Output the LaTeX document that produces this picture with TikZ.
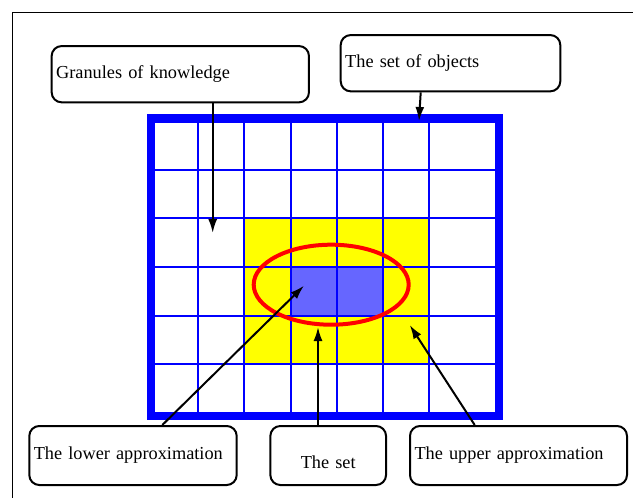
\documentclass[tikz,border=0pt]{standalone}
\usepackage{fontspec}
\setmainfont{Liberation Serif}
\usetikzlibrary{arrows.meta}
\definecolor{upperyellow}{RGB}{255,255,0}
\definecolor{lowerblue}{RGB}{102,102,255}

\begin{document}
\begin{tikzpicture}[x=1bp, y=-1bp, >={Latex[length=14bp,width=9bp]},
  box/.style={draw, line width=2bp, rounded corners=10bp, inner xsep=4.5bp,
    inner ysep=0pt, align=left, font=\fontsize{18.3bp}{22bp}\selectfont},
  grid/.style={blue, line width=2bp},
  arr/.style={->, line width=2bp}]
  \clip (0,0) rectangle (633,498);
  % page frame (only top and left edges are in view)
  \draw[line width=1bp] (12.3,12.7) rectangle (700,560);
  % upper and lower approximation
  \fill[upperyellow] (244.4,218.5) rectangle (428.7,364);
  \fill[lowerblue] (290.5,267) rectangle (382.6,315.5);
  % granules
  \foreach \x in {198.3,244.4,290.5,336.5,382.6,428.7}
    \draw[grid] (\x,118.5) -- (\x,415.8);
  \foreach \y in {170,218.5,267,315.5,364}
    \draw[grid] (151.2,\y) -- (498.8,\y);
  % universe border
  \draw[blue, line width=8.5bp] (151.2,118.5) rectangle (498.8,415.8);
  % the set
  \draw[red, line width=4bp] (331.2,284.7) ellipse [x radius=77.5, y radius=40];

  % labels
  \node[box, text width=248.3bp, minimum height=56.3bp] (gran) at (180.3,74.2) {Granules of knowledge};
  \node[box, text width=210.6bp, minimum height=56.3bp] (objects) at (450.5,63.2) {The set of objects};
  \node[box, text width=198.4bp, minimum height=59bp] (lower) at (133,455.5) {The lower approximation};
  \node[box, text width=106.7bp, minimum height=59bp, align=center, text height=27bp] (theset) at (328.2,455.5) {The set};
  \node[box, text width=208bp, minimum height=59bp] (upper) at (518.5,455.5) {The upper approximation};

  \coordinate (gtip) at (212.7,233);
  \coordinate (otip) at (419,121);
  \coordinate (ltip) at (304,285.7);
  \coordinate (stip) at (318,327);
  \coordinate (utip) at (409.7,325);
  \draw[arr] (gran.south -| gtip) -- (gtip);
  \draw[arr] ([xshift=-29.8bp]objects.south) -- (otip);
  \draw[arr] ([xshift=29.3bp]lower.north) -- (ltip);
  \draw[arr] (theset.north -| stip) -- (stip);
  \draw[arr] ([xshift=-43.8bp]upper.north) -- (utip);
\end{tikzpicture}
\end{document}
